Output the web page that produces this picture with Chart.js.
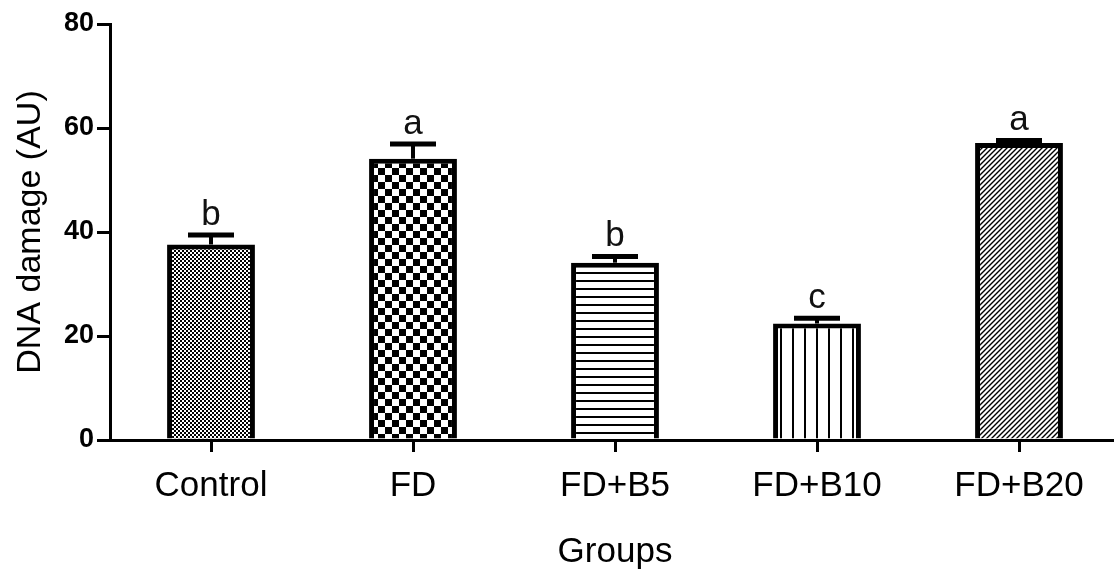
<!DOCTYPE html>
<html>
<head>
<meta charset="utf-8">
<script src="https://cdn.jsdelivr.net/npm/chart.js@4.4.1/dist/chart.umd.min.js"></script>
<style>
  html, body { margin: 0; padding: 0; background: #fff; overflow: hidden; }
  #wrap { position: relative; width: 1120px; height: 579px; }
</style>
</head>
<body>
<div id="wrap"><canvas id="c"></canvas></div>
<script>
// ---- data ----
const categories = ['Control', 'FD', 'FD+B5', 'FD+B10', 'FD+B20'];
const means = [37.6, 54.1, 34.1, 22.4, 57.1];
const errors = [1.8, 2.8, 1.2, 1.0, 0.5];
const letters = ['b', 'a', 'b', 'c', 'a'];
const yTicks = [0, 20, 40, 60, 80];

// ---- patterns ----
function makePattern(w, h, draw) {
  const cv = document.createElement('canvas');
  cv.width = w; cv.height = h;
  const g = cv.getContext('2d');
  g.fillStyle = '#fff'; g.fillRect(0, 0, w, h);
  g.fillStyle = '#000'; g.strokeStyle = '#000';
  draw(g, w, h);
  return document.getElementById('c').getContext('2d').createPattern(cv, 'repeat');
}
const patFine = makePattern(4, 4, (g) => { g.fillRect(0, 0, 2, 2); g.fillRect(2, 2, 2, 2); });
const patChecker = makePattern(14, 14, (g) => { g.fillRect(0, 0, 7, 7); g.fillRect(7, 7, 7, 7); });
const patHoriz = makePattern(4, 8, (g) => { g.fillRect(0, 0, 4, 2); });
const patVert = makePattern(12, 4, (g) => { g.fillRect(0, 0, 2, 4); });
const patDiag = makePattern(5, 5, (g, w, h) => {
  g.lineWidth = 1.4;
  g.beginPath();
  g.moveTo(-1, h + 1); g.lineTo(w + 1, -1);
  g.moveTo(-1, 1); g.lineTo(1, -1);
  g.moveTo(w - 1, h + 1); g.lineTo(w + 1, h - 1);
  g.stroke();
});
const patterns = [patFine, patChecker, patHoriz, patVert, patDiag];

// ---- plugins: error bars & letters ----
const errorPlugin = {
  id: 'errorBars',
  afterDatasetsDraw(chart) {
    const ctx = chart.ctx;
    const meta = chart.getDatasetMeta(0);
    const ys = chart.scales.y;
    ctx.save();
    ctx.strokeStyle = '#000';
    meta.data.forEach((bar, i) => {
      const x = bar.x;
      const yTop = ys.getPixelForValue(means[i]);
      const yCap = ys.getPixelForValue(means[i] + errors[i]);
      ctx.lineWidth = 4;
      ctx.beginPath();
      ctx.moveTo(x, yTop);
      ctx.lineTo(x, yCap);
      ctx.stroke();
      ctx.lineWidth = 5;
      ctx.beginPath();
      ctx.moveTo(x - 23, yCap);
      ctx.lineTo(x + 23, yCap);
      ctx.stroke();
      ctx.fillStyle = '#111';
      ctx.font = '35px "Liberation Sans", Arial, sans-serif';
      ctx.textAlign = 'center';
      ctx.textBaseline = 'alphabetic';
      ctx.fillText(letters[i], x, yCap - 10);
    });
    ctx.restore();
  }
};

new Chart(document.getElementById('c'), {
  type: 'bar',
  data: {
    labels: categories,
    datasets: [{
      data: means,
      backgroundColor: patterns,
      borderColor: '#000',
      borderWidth: 5,
      barPercentage: 0.435,
      categoryPercentage: 1.0
    }]
  },
  options: {
    responsive: true,
    maintainAspectRatio: false,
    animation: false,
    devicePixelRatio: 1,
    layout: { padding: { top: 24, right: 0, bottom: 0, left: 0 } },
    plugins: { legend: { display: false }, tooltip: { enabled: false } },
    scales: {
      x: {
        grid: { display: true, drawOnChartArea: false, drawTicks: true, tickLength: 12, lineWidth: 3, color: '#000', offset: false },
        border: { display: true, color: '#000', width: 3 },
        ticks: { color: '#000', padding: 13, maxRotation: 0, font: { family: '"Liberation Sans", Arial, sans-serif', size: 35 } },
        title: { display: true, text: 'Groups', color: '#000', padding: { top: 0, bottom: 6 }, font: { family: '"Liberation Sans", Arial, sans-serif', size: 35 } },
        afterFit(s) { s.height = 139; }
      },
      y: {
        min: 0, max: 80,
        afterBuildTicks(s) { s.ticks = yTicks.map(v => ({ value: v })); },
        grid: { display: true, drawOnChartArea: false, drawTicks: true, tickLength: 13, lineWidth: 3, color: '#000' },
        border: { display: true, color: '#000', width: 3 },
        ticks: { color: '#000', padding: 3, font: { family: '"Liberation Sans", Arial, sans-serif', size: 27, weight: 'bold' } },
        title: { display: true, text: 'DNA damage (AU)', color: '#000', padding: { top: 10, bottom: 0 }, font: { family: '"Liberation Sans", Arial, sans-serif', size: 34 } },
        afterFit(s) { s.width = 110; }
      }
    }
  },
  plugins: [errorPlugin]
});
</script>
</body>
</html>
